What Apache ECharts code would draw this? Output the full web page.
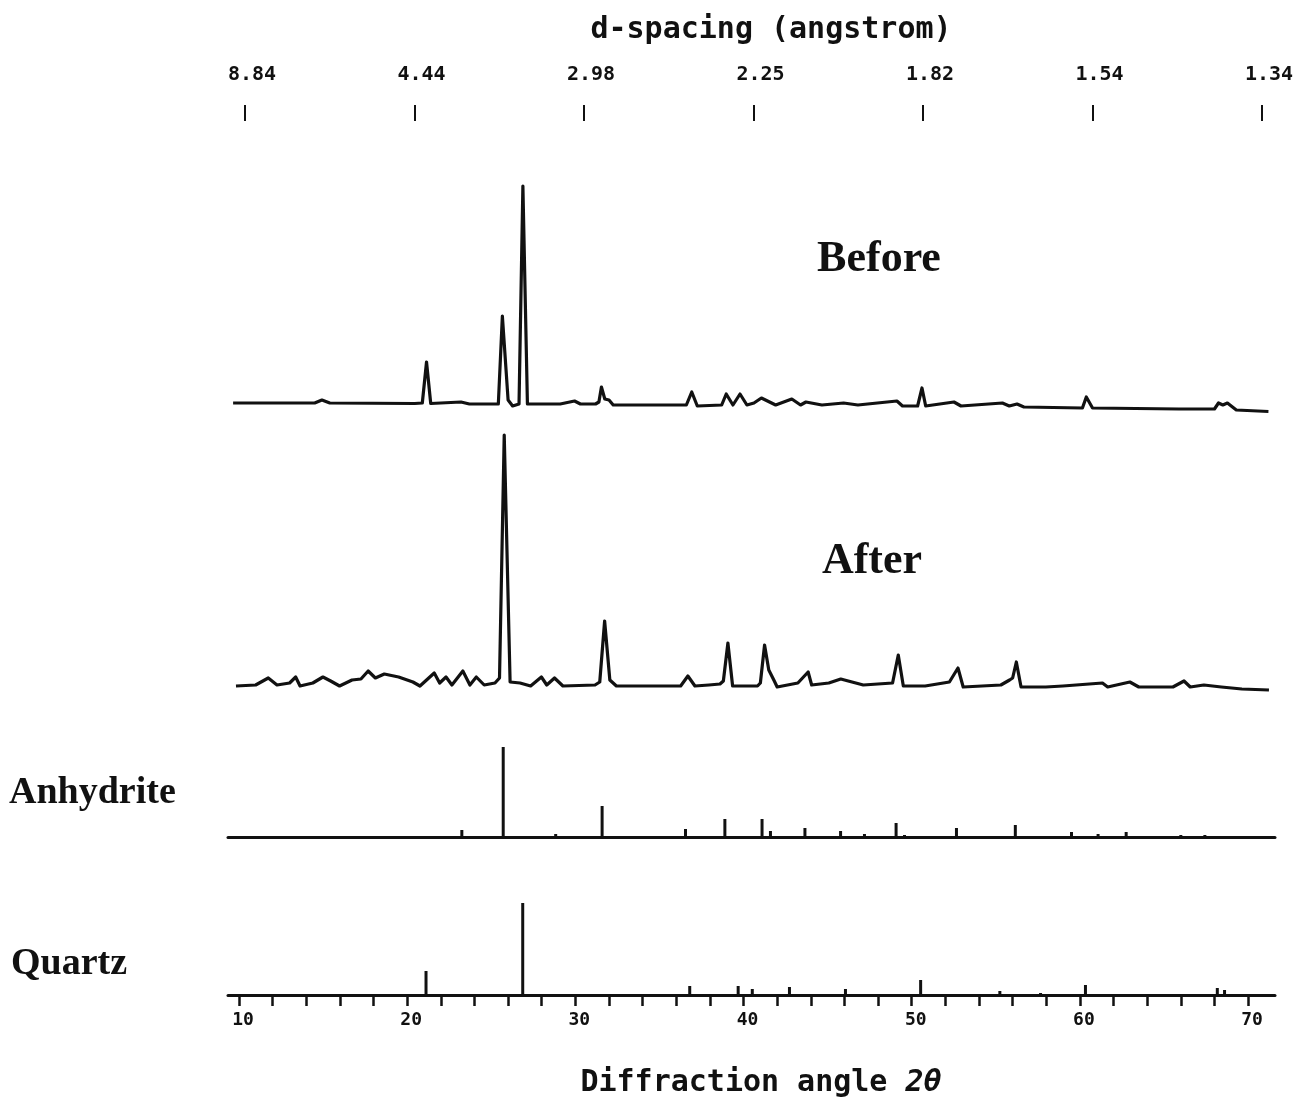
<!DOCTYPE html>
<html>
<head>
<meta charset="utf-8">
<script src="https://cdn.jsdelivr.net/npm/echarts@6/dist/echarts.min.js"></script>
<style>
html, body { margin: 0; background: #fff; }
#chart { width: 1301px; height: 1113px; }
</style>
</head>
<body>
<div id="chart"></div>
<script>
// 2-theta ticks and labels (bottom axis)
const twoThetaTicks = [10, 12, 14, 16, 18, 20, 22, 24, 26, 28, 30, 32, 34, 36, 38, 40, 42, 44, 46, 48, 50, 52, 54, 56, 58, 60, 62, 64, 66, 68, 70];
const twoThetaLabels = [10, 20, 30, 40, 50, 60, 70];
// d-spacing labels (top axis), one per 10 degrees
const dSpacingLabels = ['8.84', '4.44', '2.98', '2.25', '1.82', '1.54', '1.34'];

// scans: [2theta, intensity]
const beforeScan = [
  [9.65, 17], [12.4, 17], [14.5, 17], [14.93, 20], [15.4, 17], [20.45, 16.5], [20.9, 17], [21.15, 58], [21.4, 16.5],
  [23.2, 18], [23.7, 16], [25.42, 16], [25.66, 104], [26.0, 20], [26.27, 14], [26.65, 16], [26.88, 234], [27.15, 16],
  [29.1, 16], [29.95, 19], [30.3, 16], [31.2, 16], [31.4, 18], [31.55, 33], [31.75, 21], [32.0, 20], [32.25, 15],
  [36.6, 15], [36.92, 28], [37.25, 14], [38.7, 15], [38.97, 26], [39.37, 15], [39.79, 26], [40.2, 15], [40.62, 17],
  [41.06, 22], [41.91, 15], [42.87, 21], [43.39, 15], [43.71, 18], [44.66, 15], [45.95, 17], [46.8, 15],
  [49.12, 19], [49.45, 14], [50.35, 14], [50.61, 32], [50.83, 14], [52.51, 18], [52.93, 14],
  [55.39, 17], [55.8, 14], [56.26, 16], [56.67, 13], [60.15, 12], [60.38, 23], [60.75, 12],
  [65.89, 11], [68.0, 11], [68.24, 17], [68.5, 15], [68.77, 17], [69.3, 10], [71.21, 8.5]
];
const afterScan = [
  [9.82, 14], [10.99, 15], [11.74, 22], [12.26, 15], [13.01, 17], [13.37, 23], [13.63, 14], [14.39, 17], [14.99, 23],
  [15.45, 19], [15.98, 14], [16.72, 20], [17.25, 21], [17.68, 29], [18.11, 22], [18.64, 26], [19.49, 23], [20.34, 18],
  [20.76, 14], [21.61, 27], [21.93, 17], [22.31, 23], [22.66, 15], [23.31, 29], [23.73, 15], [24.11, 23], [24.58, 15],
  [25.22, 17], [25.49, 22], [25.77, 265], [26.12, 18], [26.71, 17], [27.34, 14], [27.98, 23], [28.3, 15], [28.76, 22],
  [29.26, 14], [31.17, 15], [31.45, 18], [31.74, 79], [32.05, 20], [32.44, 14], [36.26, 14], [36.69, 24], [37.11, 14],
  [37.94, 15], [38.6, 16], [38.8, 19], [39.07, 57], [39.35, 14], [40.83, 14], [41.0, 17], [41.25, 55], [41.5, 30],
  [41.8, 20], [42.0, 13], [43.23, 17], [43.84, 28], [44.05, 15], [45.07, 17], [45.78, 21], [47.12, 15], [48.86, 17],
  [49.2, 45], [49.5, 14], [50.8, 14], [52.24, 18], [52.75, 32], [53.06, 13], [55.3, 15], [55.82, 20], [56.0, 22],
  [56.22, 38], [56.5, 13], [57.97, 13], [58.99, 14], [61.34, 17], [61.65, 13], [62.97, 18], [63.5, 13], [65.53, 13],
  [66.19, 19], [66.56, 13], [67.37, 15], [68.41, 13], [69.63, 11], [71.24, 10]
];

// reference patterns: [2theta, relative height]
const anhydriteSticks = [
  [23.25, 7], [25.71, 90], [28.83, 3], [31.59, 31], [36.55, 8], [38.89, 18], [41.1, 18], [41.6, 6], [43.65, 9],
  [45.77, 6], [47.19, 3], [49.07, 14], [49.57, 2], [52.66, 9], [56.16, 12], [59.5, 5], [61.08, 3], [62.75, 5],
  [66.0, 2], [67.43, 2]
];
const quartzSticks = [
  [21.12, 24], [26.87, 92], [36.8, 9], [39.68, 9], [40.52, 6], [42.73, 8], [46.06, 6], [50.53, 15], [55.24, 4],
  [57.66, 2], [60.33, 10], [68.17, 7], [68.6, 5]
];

const ink = '#111';
const monoFont = '"DejaVu Sans Mono"';
const serifFont = '"Liberation Serif"';

const chart = echarts.init(document.getElementById('chart'));

function scanAxis(grid) {
  return { type: 'value', gridIndex: grid, min: 9.346, max: 71.6, show: false };
}

chart.setOption({
  animation: false,
  backgroundColor: '#fff',
  grid: [
    { left: 228, right: 26, top: 180, height: 240 },
    { left: 228, right: 26, top: 430, height: 270 },
    { left: 228, right: 26, top: 740, height: 97 },
    { left: 228, right: 26, top: 895, height: 100 },
    { left: 245, right: 39, top: 111, height: 10 }
  ],
  xAxis: [
    scanAxis(0),
    scanAxis(1),
    {
      type: 'value', gridIndex: 2, min: 9.346, max: 71.6,
      axisLine: { show: true, lineStyle: { color: ink, width: 3 } },
      axisTick: { show: false }, axisLabel: { show: false }, splitLine: { show: false }
    },
    {
      type: 'value', gridIndex: 3, min: 9.346, max: 71.6,
      axisLine: { show: true, lineStyle: { color: ink, width: 3 } },
      axisTick: { show: true, length: 11, customValues: twoThetaTicks, lineStyle: { color: ink, width: 2.5 } },
      axisLabel: {
        customValues: twoThetaLabels, margin: 16, padding: [0, 0, 0, 8],
        color: ink, fontFamily: monoFont, fontWeight: 'bold', fontSize: 18
      },
      splitLine: { show: false }
    },
    {
      type: 'value', gridIndex: 4, position: 'top', min: 10, max: 70, interval: 10,
      axisLine: { show: false },
      axisTick: { show: true, length: 16, lineStyle: { color: ink, width: 2 } },
      axisLabel: {
        margin: 26, padding: [0, 0, 0, 14],
        color: ink, fontFamily: monoFont, fontWeight: 'bold', fontSize: 20,
        formatter: v => dSpacingLabels[Math.round((v - 10) / 10)]
      },
      splitLine: { show: false }
    }
  ],
  yAxis: [
    { type: 'value', gridIndex: 0, min: 0, max: 240, show: false },
    { type: 'value', gridIndex: 1, min: 0, max: 270, show: false },
    { type: 'value', gridIndex: 2, min: 0, max: 97, show: false },
    { type: 'value', gridIndex: 3, min: 0, max: 100, show: false },
    { type: 'value', gridIndex: 4, min: 0, max: 1, show: false }
  ],
  series: [
    {
      name: 'Before', type: 'line', xAxisIndex: 0, yAxisIndex: 0, data: beforeScan,
      showSymbol: false, symbol: 'none', lineStyle: { color: ink, width: 3.2, join: 'round' }
    },
    {
      name: 'After', type: 'line', xAxisIndex: 1, yAxisIndex: 1, data: afterScan,
      showSymbol: false, symbol: 'none', lineStyle: { color: ink, width: 3.2, join: 'round' }
    },
    {
      name: 'Anhydrite', type: 'bar', xAxisIndex: 2, yAxisIndex: 2, data: anhydriteSticks,
      barWidth: 3, itemStyle: { color: ink }
    },
    {
      name: 'Quartz', type: 'bar', xAxisIndex: 3, yAxisIndex: 3, data: quartzSticks,
      barWidth: 3, itemStyle: { color: ink }
    }
  ],
  graphic: [
    { type: 'text', x: 771, y: 30, style: { text: 'd-spacing (angstrom)', fill: ink, font: 'bold 30px ' + monoFont, textAlign: 'center', textVerticalAlign: 'middle' } },
    {
      type: 'text', x: 761, y: 1083,
      style: {
        text: 'Diffraction angle {i|2θ}', fill: ink, fontFamily: monoFont, fontWeight: 'bold', fontSize: 30,
        textAlign: 'center', textVerticalAlign: 'middle',
        rich: { i: { fontFamily: monoFont, fontWeight: 'bold', fontSize: 30, fontStyle: 'italic', fill: ink } }
      }
    },
    { type: 'text', x: 879, y: 260, style: { text: 'Before', fill: ink, font: 'bold 44px ' + serifFont, textAlign: 'center', textVerticalAlign: 'middle' } },
    { type: 'text', x: 872, y: 562, style: { text: 'After', fill: ink, font: 'bold 44px ' + serifFont, textAlign: 'center', textVerticalAlign: 'middle' } },
    { type: 'text', x: 9, y: 793, style: { text: 'Anhydrite', fill: ink, font: 'bold 38px ' + serifFont, textAlign: 'left', textVerticalAlign: 'middle' } },
    { type: 'text', x: 11, y: 964, style: { text: 'Quartz', fill: ink, font: 'bold 38px ' + serifFont, textAlign: 'left', textVerticalAlign: 'middle' } }
  ]
});
</script>
</body>
</html>
